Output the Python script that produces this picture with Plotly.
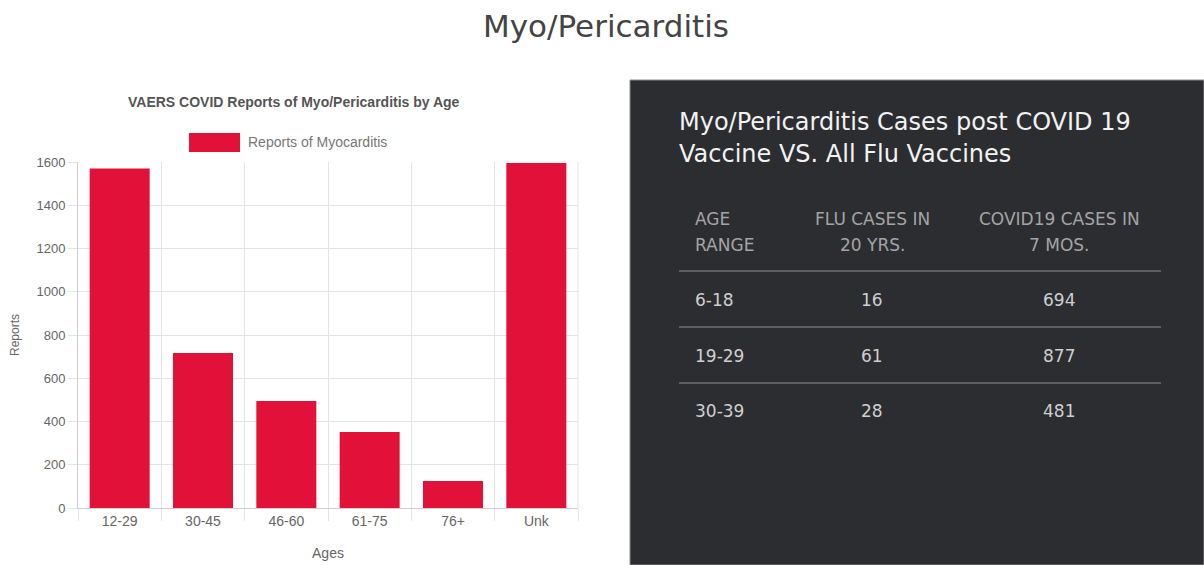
import plotly.graph_objects as go

# ---------------- data ----------------
age_groups = ["12-29", "30-45", "46-60", "61-75", "76+", "Unk"]
reports = [1570, 717, 495, 351, 125, 1595]
y_ticks = [0, 200, 400, 600, 800, 1000, 1200, 1400, 1600]

table_header = [["AGE", "RANGE"], ["FLU CASES IN", "20 YRS."], ["COVID19 CASES IN", "7 MOS."]]
age_ranges = ["6-18", "19-29", "30-39"]
flu_cases = [16, 61, 28]
covid_cases = [694, 877, 481]

page_title = "Myo/Pericarditis"
chart_title = "VAERS COVID Reports of Myo/Pericarditis by Age"
legend_label = "Reports of Myocarditis"
y_title = "Reports"
x_title = "Ages"
panel_title = ["Myo/Pericarditis Cases post COVID 19", "Vaccine VS. All Flu Vaccines"]

# ---------------- layout helpers ----------------
W, H = 1204, 565
def px(x):
    return x / W
def py(y):
    return 1 - y / H

BAR_COLOR = "#E1113A"
GRID = "#e4e4e4"
TICK_TXT = "#666666"
SANS = "Liberation Sans, Arial, sans-serif"
PANEL_FONT = "DejaVu Sans, sans-serif"

fig = go.Figure()
fig.add_trace(go.Bar(x=age_groups, y=reports, marker=dict(color=BAR_COLOR, line=dict(width=0)),
                     name=legend_label, showlegend=False))

fig.update_layout(
    width=W, height=H,
    margin=dict(l=0, r=0, t=0, b=0, autoexpand=False),
    paper_bgcolor="white", plot_bgcolor="white",
    bargap=0.28,
    xaxis=dict(domain=[px(78), px(578)], type="category", tickson="boundaries", automargin=False,
               showgrid=True, gridcolor=GRID, gridwidth=1,
               ticks="outside", ticklen=12, tickcolor=GRID,
               showline=True, linecolor="#cfcfcf", linewidth=1,
               tickfont=dict(family=SANS, size=14, color=TICK_TXT),
               title=dict(text=x_title, font=dict(family=SANS, size=14, color=TICK_TXT), standoff=20),
               range=[-0.5, 5.5], fixedrange=True),
    yaxis=dict(domain=[py(508), py(162)], range=[0, 1600], tickvals=y_ticks, tickformat="d", automargin=False,
               showgrid=True, gridcolor=GRID, gridwidth=1,
               ticks="outside", ticklen=9, tickcolor=GRID,
               showline=True, linecolor="#cfcfcf", linewidth=1, zeroline=False,
               tickfont=dict(family=SANS, size=13, color=TICK_TXT),
               fixedrange=True),
)

shapes = []
annotations = []

shapes.append(dict(type="line", xref="paper", yref="paper", x0=px(578), x1=px(578), y0=py(508), y1=py(162),
                   line=dict(color=GRID, width=1)))

# y-axis title (placed close to the tick labels, as in the reference)
annotations.append(dict(text=y_title, x=px(15), y=py(335), xref="paper", yref="paper", textangle=-90,
                        showarrow=False, xanchor="center", yanchor="middle",
                        font=dict(family=SANS, size=12, color=TICK_TXT)))

# page title
annotations.append(dict(text=page_title, x=px(606), y=py(26), xref="paper", yref="paper",
                        showarrow=False, xanchor="center", yanchor="middle",
                        font=dict(family=PANEL_FONT, size=31, color="#444444")))
# chart title
annotations.append(dict(text="<b>" + chart_title + "</b>", x=px(294), y=py(102), xref="paper", yref="paper",
                        showarrow=False, xanchor="center", yanchor="middle",
                        font=dict(family=SANS, size=14, color="#555555")))
# legend
shapes.append(dict(type="rect", xref="paper", yref="paper", x0=px(189), x1=px(240), y0=py(152), y1=py(133),
                   fillcolor=BAR_COLOR, line=dict(width=0)))
annotations.append(dict(text=legend_label, x=px(246), y=py(142), xref="paper", yref="paper",
                        showarrow=False, xanchor="left", yanchor="middle",
                        font=dict(family=SANS, size=14, color="#777777")))

# dark panel
shapes.append(dict(type="rect", xref="paper", yref="paper", x0=px(630), x1=1.0, y0=0, y1=py(80),
                   fillcolor="#2c2d31", line=dict(color="#8a8a8c", width=1), layer="below"))

# panel title
for i, line in enumerate(panel_title):
    annotations.append(dict(text=line, x=px(677), y=py(121.5 + 32 * i), xref="paper", yref="paper",
                            showarrow=False, xanchor="left", yanchor="middle",
                            font=dict(family=PANEL_FONT, size=24, color="#f2f2f2")))

col_x = [693, 872, 1059]
col_anchor = ["left", "center", "center"]
header_y = [219, 245]
row_y = [300, 355.5, 411]
line_y = [271, 327, 383]

for c, hdr in enumerate(table_header):
    for r, txt in enumerate(hdr):
        annotations.append(dict(text=txt, x=px(col_x[c]), y=py(header_y[r]), xref="paper", yref="paper",
                                showarrow=False, xanchor=col_anchor[c], yanchor="middle",
                                font=dict(family=PANEL_FONT, size=17, color="#a4a4a6")))

for r in range(len(age_ranges)):
    vals = [age_ranges[r], str(flu_cases[r]), str(covid_cases[r])]
    for c, v in enumerate(vals):
        annotations.append(dict(text=v, x=px(col_x[c]), y=py(row_y[r]), xref="paper", yref="paper",
                                showarrow=False, xanchor=col_anchor[c], yanchor="middle",
                                font=dict(family=PANEL_FONT, size=17, color="#cfcfd0")))

for ly in line_y:
    shapes.append(dict(type="line", xref="paper", yref="paper", x0=px(679), x1=px(1161), y0=py(ly), y1=py(ly),
                       line=dict(color="#5e5f63", width=2)))

fig.update_layout(shapes=shapes, annotations=annotations)
fig.write_html("out.html", config={"displayModeBar": False},
               post_script="document.body.style.margin='0';document.body.style.overflow='hidden';")
